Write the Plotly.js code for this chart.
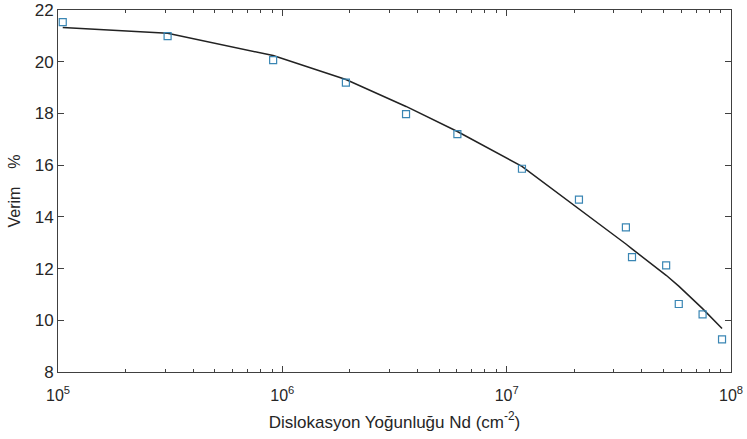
<!DOCTYPE html>
<html>
<head>
<meta charset="utf-8">
<script src="https://cdn.plot.ly/plotly-3.0.1.min.js"></script>
<style>html,body{margin:0;padding:0;background:#fff;}#chart{width:747px;height:439px;}</style>
</head>
<body>
<div id="chart"></div>
<script>
// Measured data (open squares)
var dataX = [1.05e5, 3.08e5, 9.1e5, 1.92e6, 3.56e6, 6.03e6, 1.17e7, 2.10e7, 3.40e7, 3.62e7, 5.14e7, 5.85e7, 7.47e7, 9.12e7];
var dataY = [21.53, 20.99, 20.06, 19.19, 17.97, 17.20, 15.86, 14.67, 13.59, 12.44, 12.12, 10.63, 10.23, 9.26];
// Fitted curve (evaluated at the same abscissas)
var fitY = [21.32, 21.10, 20.24, 19.31, 18.27, 17.30, 15.95, 14.32, 12.95, 12.76, 11.74, 11.32, 10.45, 9.68];
var xTickVals = [1e5, 1e6, 1e7, 1e8];
var xTickText = ['10<sup>5</sup>', '10<sup>6</sup>', '10<sup>7</sup>', '10<sup>8</sup>'];
var yTickVals = [8, 10, 12, 14, 16, 18, 20, 22];

var minorVals = [];
[1e5, 1e6, 1e7].forEach(function (d) { for (var k = 2; k <= 9; k++) minorVals.push(k * d); });

var font = 'Liberation Sans, Arial, sans-serif';

var traces = [
  { x: dataX, y: fitY, type: 'scatter', mode: 'lines', line: { color: '#222222', width: 1.5 }, hoverinfo: 'skip' },
  { x: dataX, y: dataY, type: 'scatter', mode: 'markers',
    marker: { symbol: 'square-open', size: 7, color: '#3a86b4', line: { width: 1.2 } } }
];

var layout = {
  width: 747, height: 439,
  margin: { l: 58, r: 16, t: 10, b: 67 },
  paper_bgcolor: '#ffffff', plot_bgcolor: '#ffffff',
  showlegend: false,
  font: { family: font, color: '#262626' },
  xaxis: {
    type: 'log', range: [5, 8],
    tickmode: 'array', tickvals: xTickVals, ticktext: xTickText,
    ticks: 'inside', ticklen: 6, tickcolor: '#404040', tickwidth: 1,
    showline: true, linecolor: '#404040', linewidth: 1, mirror: 'ticks',
    showgrid: false, zeroline: false,
    ticklabelstandoff: 9,
    tickfont: { size: 16, family: font, color: '#262626' },
    minor: { tickmode: 'array', tickvals: minorVals, ticks: 'inside', ticklen: 3, tickcolor: '#404040', showgrid: false },
    title: { text: 'Dislokasyon Yoğunluğu Nd (cm<sup>-2</sup>)', font: { size: 17, family: font, color: '#262626' }, standoff: 12 }
  },
  yaxis: {
    range: [8, 22],
    tickmode: 'array', tickvals: yTickVals,
    ticks: 'inside', ticklen: 6, tickcolor: '#404040', tickwidth: 1,
    showline: true, linecolor: '#404040', linewidth: 1, mirror: 'ticks',
    showgrid: false, zeroline: false,
    tickfont: { size: 17, family: font, color: '#262626' },
    title: { text: 'Verim    %', font: { size: 16, family: font, color: '#262626' }, standoff: 10 }
  }
};

Plotly.newPlot('chart', traces, layout, { staticPlot: true, displayModeBar: false });
</script>
</body>
</html>
